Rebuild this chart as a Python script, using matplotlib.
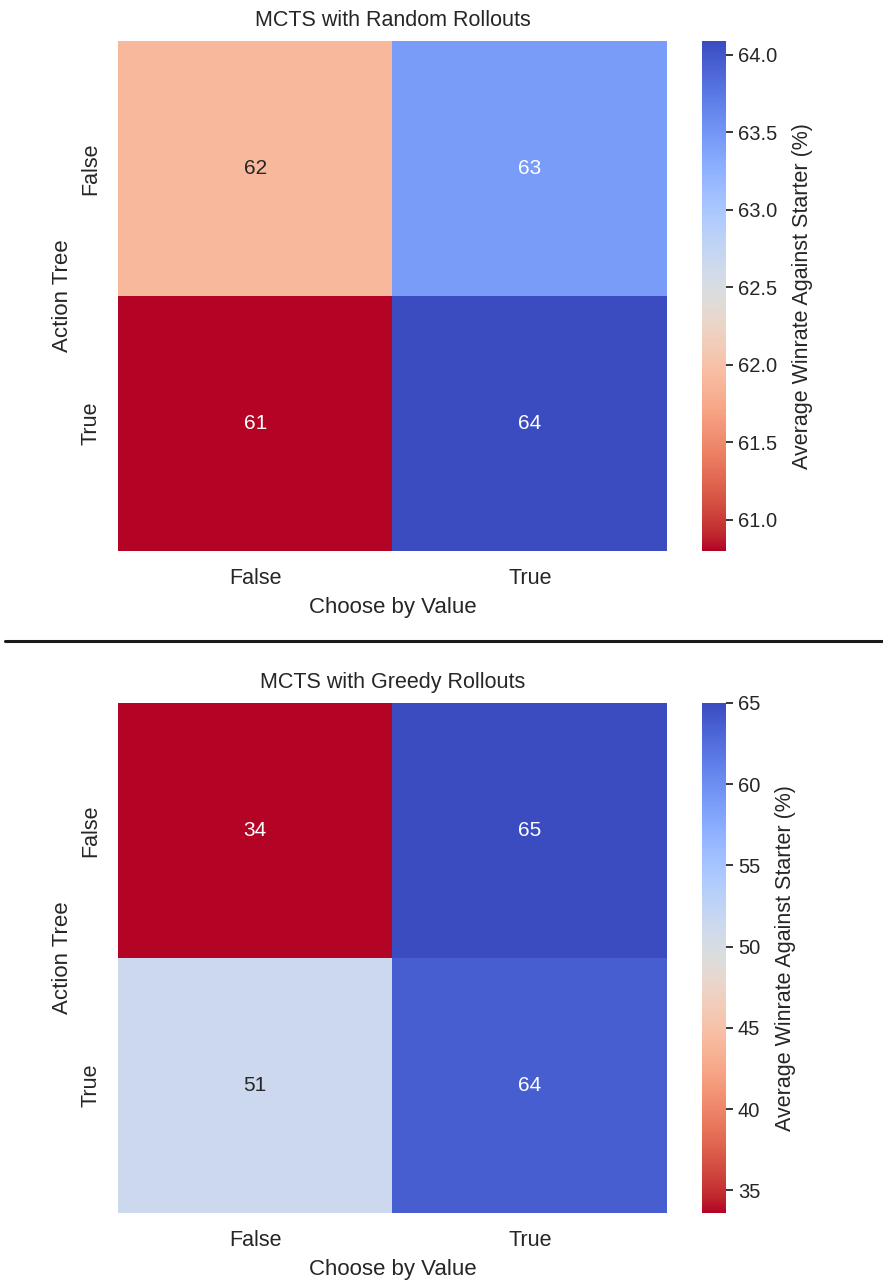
import matplotlib
matplotlib.use("Agg")
import matplotlib.pyplot as plt
import seaborn as sns
import pandas as pd

# average winrate (%) per setting, rows = Action Tree, cols = Choose by Value
flags = [False, True]
random_rollouts = [[61.9, 63.45],
                   [60.80, 64.09]]
greedy_rollouts = [[33.6, 65.0],
                   [51.3, 63.7]]

sns.set_theme(style="ticks")
plt.rcParams['font.family'] = ['Liberation Sans', 'DejaVu Sans']

fig = plt.figure(figsize=(8.83, 12.84), dpi=100)

panels = [
    ("MCTS with Random Rollouts", random_rollouts, 0.5709),
    ("MCTS with Greedy Rollouts", greedy_rollouts, 0.0553),
]

for title, vals, bottom in panels:
    ax = fig.add_axes([0.1336, bottom, 0.6218, 0.3972])
    cax = fig.add_axes([0.795, bottom, 0.0272, 0.3972])
    df = pd.DataFrame(vals, index=flags, columns=flags)
    sns.heatmap(df, annot=True, fmt=".0f", cmap="coolwarm_r", ax=ax, cbar_ax=cax,
                annot_kws={"size": 15},
                cbar_kws={"label": "Average Winrate Against Starter (%)"})
    ax.set_title(title, fontsize=15.5, color="#262626", pad=11)
    ax.set_xlabel("Choose by Value", fontsize=16, color="#262626", labelpad=6)
    ax.set_ylabel("Action Tree", fontsize=16, color="#262626", labelpad=5)
    ax.tick_params(axis="both", length=0, labelsize=15.5, colors="#262626", pad=12)
    plt.setp(ax.get_yticklabels(), rotation=90, va="center")
    cax.tick_params(labelsize=14.5, colors="#262626", length=5, width=1.3)
    cax.yaxis.label.set_size(15.5)
    cax.yaxis.label.set_color("#262626")
    cax.yaxis.labelpad = 11

# divider between the two panels
fig.add_artist(plt.Line2D([0.006, 1.0], [1 - 641 / 1284, 1 - 641 / 1284],
                          color="#1a1a1a", lw=2.2, transform=fig.transFigure))

fig.savefig("out.png", dpi=100)
